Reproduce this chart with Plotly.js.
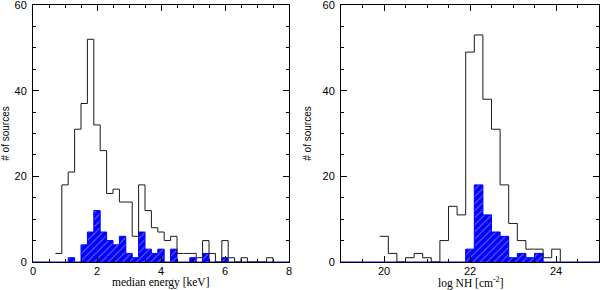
<!DOCTYPE html>
<html>
<head>
<meta charset="utf-8">
<script src="https://cdn.plot.ly/plotly-3.0.1.min.js"></script>
<style>html,body{margin:0;padding:0;background:#fff;}#chart{width:600px;height:290px;}</style>
</head>
<body>
<div id="chart"></div>
<script>
// ---- Data: median energy histogram (bin centres, keV) ----
const energyCenters = [0.8, 1.0, 1.2, 1.4, 1.6, 1.8, 2.0, 2.2, 2.4, 2.6, 2.8, 3.0, 3.2, 3.4, 3.6, 3.8, 4.0, 4.2, 4.4, 4.6, 4.8, 5.0, 5.2, 5.4, 5.6, 5.8, 6.0, 6.2, 6.4, 6.6, 6.8, 7.0, 7.2, 7.4];
const energyAll      = [2, 18, 21, 31, 37, 52, 32, 26, 16, 17, 14, 14, 6, 18, 12, 8, 7, 5, 6, 2, 2, 2, 1, 5, 2, 0, 5, 1, 0, 1, 0, 0, 0, 1];
const energySubset   = [0, 0, 1, 0, 4, 7, 12, 7, 5, 4, 6, 2, 1, 7, 3, 2, 3, 0, 3, 0, 0, 1, 0, 2, 0, 0, 1, 0, 0, 0, 0, 0, 0, 0];

// ---- Data: log NH histogram (bin centres) ----
const nhCenters = [20.0, 20.2, 20.4, 20.6, 20.8, 21.0, 21.2, 21.4, 21.6, 21.8, 22.0, 22.2, 22.4, 22.6, 22.8, 23.0, 23.2, 23.4, 23.6, 23.8, 24.0];
const nhAll     = [6, 2, 0, 1, 2, 1, 0, 5, 13, 11, 49, 53, 38, 31, 18, 9, 5, 3, 3, 1, 3];
const nhSubset  = [0, 0, 0, 0, 0, 0, 0, 0, 0, 0, 3, 18, 11, 7, 6, 1, 2, 1, 2, 0, 0];

const binWidth = 0.2;
const energyTicks = [0, 2, 4, 6, 8];
const nhTicks = [20, 22, 24];
const countTicks = [0, 20, 40, 60];
const energyTitle = 'median energy [keV]';
const nhTitle = 'log NH [cm<sup>-2</sup>]';
const countTitle = '# of sources';

// build step-histogram outline points (hv shape) from bin centres and counts
function steps(centers, counts, w, xStart, xEnd) {
  const xs = [], ys = [];
  if (xStart !== null) { xs.push(xStart); ys.push(0); }
  for (let i = 0; i < centers.length; i++) {
    xs.push(centers[i] - w / 2); ys.push(counts[i]);
  }
  xs.push(centers[centers.length - 1] + w / 2); ys.push(0);
  if (xEnd !== null) { xs.push(xEnd); ys.push(0); }
  return {x: xs, y: ys};
}

const pattern = {shape: '/', bgcolor: '#0000ff', fgcolor: '#6f6fff', size: 5, solidity: 0.2};
const outlineLine = {color: '#1a1a1a', width: 1, shape: 'hv'};
const blueLine = {color: '#0000ff', width: 1, shape: 'hv'};

const eSub = steps(energyCenters, energySubset, binWidth, 0, 8);
const eAll = steps(energyCenters, energyAll, binWidth, null, null);
const nSub = steps(nhCenters, nhSubset, binWidth, 19, 25);
const nAll = steps(nhCenters, nhAll, binWidth, null, null);

const traces = [
  {type: 'scatter', mode: 'lines', x: eSub.x, y: eSub.y, line: blueLine, fill: 'tozeroy',
   fillcolor: '#0000ff', fillpattern: pattern, xaxis: 'x', yaxis: 'y', hoverinfo: 'skip'},
  {type: 'scatter', mode: 'lines', x: eAll.x, y: eAll.y, line: outlineLine, xaxis: 'x', yaxis: 'y', hoverinfo: 'skip'},
  {type: 'scatter', mode: 'lines', x: nSub.x, y: nSub.y, line: blueLine, fill: 'tozeroy',
   fillcolor: '#0000ff', fillpattern: pattern, xaxis: 'x2', yaxis: 'y2', hoverinfo: 'skip'},
  {type: 'scatter', mode: 'lines', x: nAll.x, y: nAll.y, line: outlineLine, xaxis: 'x2', yaxis: 'y2', hoverinfo: 'skip'}
];

const tickFont = {family: 'Liberation Sans, Arial, sans-serif', size: 11, color: '#000'};
const serifFont = {family: 'Liberation Serif, Times New Roman, serif', size: 11.5, color: '#000'};
function xAxis(domain, range, ticks, anchor) {
  return {
    domain: domain, range: range, anchor: anchor,
    tickvals: ticks, ticktext: ticks.map(String),
    ticks: 'inside', ticklen: 6, tickwidth: 1, tickcolor: '#000',
    minor: {dtick: 0.5, ticks: 'inside', ticklen: 3, tickcolor: '#000', showgrid: false},
    showline: true, linecolor: '#000', linewidth: 1, mirror: 'allticks',
    showgrid: false, zeroline: false, tickfont: tickFont, ticklabelstandoff: -1,
    ticklabeloverflow: 'allow'
  };
}
function yAxis(anchor) {
  return {
    domain: [0, 1], range: [0, 60], anchor: anchor,
    tickvals: countTicks, ticktext: countTicks.map(String),
    ticks: 'inside', ticklen: 6, tickwidth: 1, tickcolor: '#000',
    minor: {dtick: 5, ticks: 'inside', ticklen: 3, tickcolor: '#000', showgrid: false},
    showline: true, linecolor: '#000', linewidth: 1, mirror: 'allticks',
    showgrid: false, zeroline: false, tickfont: tickFont, ticklabelstandoff: 3,
    ticklabeloverflow: 'allow',
    title: {text: countTitle, font: {family: 'Liberation Sans, Arial, sans-serif', size: 10, color: '#000'}, standoff: 9}
  };
}

const titleY = (262 - 282.5) / 257;
const layout = {
  width: 600, height: 290,
  margin: {l: 0, r: 0, t: 5, b: 28},
  paper_bgcolor: '#fff', plot_bgcolor: '#fff',
  showlegend: false,
  xaxis: xAxis([33/600, 289/600], [0, 8], energyTicks, 'y'),
  yaxis: yAxis('x'),
  xaxis2: xAxis([341/600, 599/600], [19, 25], nhTicks, 'y2'),
  yaxis2: yAxis('x2'),
  annotations: [
    {text: energyTitle, xref: 'paper', yref: 'paper', x: 161/600, y: titleY, xanchor: 'center', yanchor: 'middle', showarrow: false, font: serifFont},
    {text: nhTitle, xref: 'paper', yref: 'paper', x: 470/600, y: titleY, xanchor: 'center', yanchor: 'middle', showarrow: false, font: serifFont}
  ]
};

Plotly.newPlot('chart', traces, layout, {staticPlot: true, displayModeBar: false});
</script>
</body>
</html>
